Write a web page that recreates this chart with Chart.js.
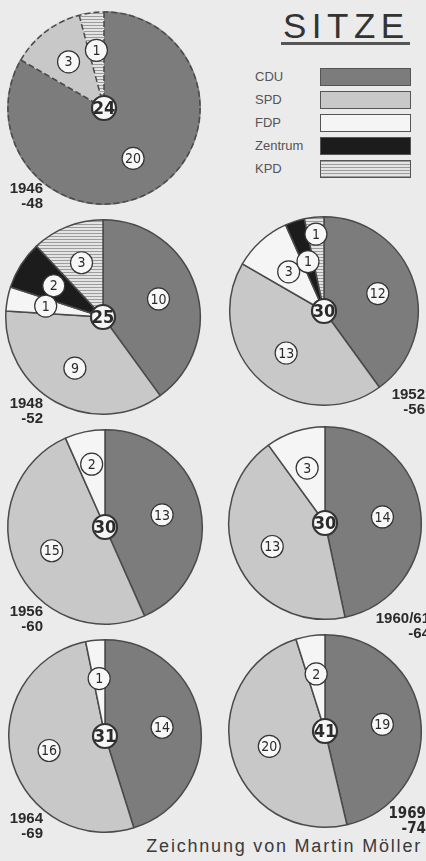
<!DOCTYPE html>
<html>
<head>
<meta charset="utf-8">
<script src="https://cdn.jsdelivr.net/npm/chart.js@4.4.0/dist/chart.umd.min.js"></script>
<style>
  html, body { margin: 0; padding: 0; }
  body {
    width: 426px; height: 861px; overflow: hidden; position: relative;
    background: #ebebeb; font-family: "Liberation Sans", Arial, sans-serif;
  }
  .pie { position: absolute; }
  .year {
    position: absolute; font-weight: bold; font-size: 15px; line-height: 15px;
    color: #2a2a2a; text-align: right; white-space: pre;
  }
  #title {
    position: absolute; left: 283px; top: 8px; font-size: 35px; line-height: 35px;
    letter-spacing: 5.5px; color: #333;
  }
  #underline { position: absolute; left: 281px; top: 42px; width: 129px; height: 3px; background: #555; }
  .lg-label { position: absolute; left: 255px; font-size: 13px; line-height: 18px; color: #555; }
  .lg-box { position: absolute; left: 320px; width: 89px; height: 16px; border: 1px solid #555; }
  #credit {
    position: absolute; right: 4px; top: 836px; font-size: 18px; line-height: 20px;
    letter-spacing: 1.8px; color: #3a3a3a;
  }
</style>
</head>
<body>
<div id="title">SITZE</div>
<div id="underline"></div>
<div id="legend"></div>
<div id="credit">Zeichnung von Martin Möller</div>

<script>
// seats per legislative period
const parties = ["CDU", "SPD", "FDP", "Zentrum", "KPD"];
const periods = ["1946\n-48", "1948\n-52", "1952\n-56", "1956\n-60", "1960/61\n-64", "1964\n-69", "1969\n-74"];
const cdu     = [20, 10, 12, 13, 14, 14, 19];
const spd     = [3,  9,  13, 15, 13, 16, 20];
const fdp     = [0,  1,  3,  2,  3,  1,  2];
const zentrum = [0,  2,  1,  0,  0,  0,  0];
const kpd     = [1,  3,  1,  0,  0,  0,  0];

// layout of each pie: center x, center y, radius, where the period label goes
const layout = [
  { cx: 104, cy: 108, r: 96, year: { right: 383, top: 180 }, dashed: true },
  { cx: 103, cy: 317, r: 97, year: { right: 383, top: 395 } },
  { cx: 324, cy: 311, r: 94, year: { right: 1, top: 386 }, radial: [0.6, 0.6, 0.56, 0.55, 0.82] },
  { cx: 105, cy: 527, r: 97, year: { right: 383, top: 603 }, radial: [0.6, 0.6, 0.66] },
  { cx: 325, cy: 523, r: 96, year: { right: -4, top: 610 } },
  { cx: 105, cy: 736, r: 96, year: { right: 383, top: 810 } },
  { cx: 325, cy: 731, r: 96, year: { right: 0, top: 806 }, narrow: true }
];

function hatch(){
  const c = document.createElement("canvas");
  c.width = 6; c.height = 3;
  const g = c.getContext("2d");
  g.fillStyle = "#e4e4e4";
  g.fillRect(0, 0, 6, 3);
  g.fillStyle = "#9c9c9c";
  g.fillRect(0, 0, 6, 1);
  return g.createPattern(c, "repeat");
}

const colors = ["#7c7c7c", "#c8c8c8", "#f5f5f5", "#1c1c1c", hatch()];
const legendCss = ["#7c7c7c", "#c8c8c8", "#f5f5f5", "#1c1c1c",
  "repeating-linear-gradient(to bottom, #9c9c9c 0px, #9c9c9c 1px, #e4e4e4 1px, #e4e4e4 3px)"];

// legend
const legend = document.getElementById("legend");
parties.forEach((p, i) => {
  const top = 68 + i * 23;
  const lab = document.createElement("div");
  lab.className = "lg-label";
  lab.style.top = top + "px";
  lab.textContent = p;
  legend.appendChild(lab);
  const box = document.createElement("div");
  box.className = "lg-box";
  box.style.top = top + "px";
  box.style.background = legendCss[i];
  legend.appendChild(box);
});

function badge(ctx, x, y, rad, text, big){
  ctx.beginPath();
  ctx.setLineDash([]);
  ctx.arc(x, y, rad, 0, Math.PI * 2);
  ctx.fillStyle = "#f7f7f7";
  ctx.fill();
  ctx.lineWidth = big ? 2.2 : 1.2;
  ctx.strokeStyle = "#333";
  ctx.stroke();
  ctx.fillStyle = "#2a2a2a";
  ctx.font = big ? "bold 18px 'Liberation Sans Narrow', 'DejaVu Sans Condensed', sans-serif"
                 : "14px 'Liberation Sans Narrow', 'DejaVu Sans Condensed', sans-serif";
  ctx.textAlign = "center";
  ctx.textBaseline = "middle";
  ctx.fillText(text, x, y + 1);
}

const seatLabels = {
  id: "seatLabels",
  afterDatasetsDraw(chart, args, opts){
    const ctx = chart.ctx;
    const arcs = chart.getDatasetMeta(0).data;
    const values = chart.data.datasets[0].data;
    ctx.save();
    if(opts.dashed){
      const a0 = arcs[0];
      ctx.strokeStyle = "#4a4a4a";
      ctx.lineWidth = 1.5;
      ctx.setLineDash([6, 3]);
      ctx.beginPath();
      ctx.arc(a0.x, a0.y, a0.outerRadius - 1, 0, Math.PI * 2);
      ctx.stroke();
      arcs.forEach((a, i) => {
        if(!values[i]) return;
        ctx.beginPath();
        ctx.moveTo(a.x, a.y);
        ctx.lineTo(a.x + Math.cos(a.startAngle) * a.outerRadius, a.y + Math.sin(a.startAngle) * a.outerRadius);
        ctx.stroke();
      });
    }
    let total = 0;
    arcs.forEach((a, i) => {
      const v = values[i];
      if(!v) return;
      total += v;
      const mid = (a.startAngle + a.endAngle) / 2;
      const f = (opts.radial && opts.radial[i]) || 0.6;
      badge(ctx, a.x + Math.cos(mid) * a.outerRadius * f, a.y + Math.sin(mid) * a.outerRadius * f, 11, String(v), false);
    });
    badge(ctx, arcs[0].x, arcs[0].y, 12, String(total), true);
    ctx.restore();
  }
};

periods.forEach((period, k) => {
  const L = layout[k];
  const box = document.createElement("div");
  box.className = "pie";
  const size = 2 * L.r + 4;
  box.style.left = (L.cx - L.r - 2) + "px";
  box.style.top = (L.cy - L.r - 2) + "px";
  box.style.width = size + "px";
  box.style.height = size + "px";
  const cv = document.createElement("canvas");
  box.appendChild(cv);
  document.body.appendChild(box);

  new Chart(cv, {
    type: "pie",
    data: {
      labels: parties,
      datasets: [{
        data: [cdu[k], spd[k], fdp[k], zentrum[k], kpd[k]],
        backgroundColor: colors,
        borderColor: "#4a4a4a",
        borderWidth: L.dashed ? 0 : 1.5
      }]
    },
    options: {
      responsive: true,
      maintainAspectRatio: false,
      animation: false,
      layout: { padding: 1 },
      plugins: {
        legend: { display: false },
        tooltip: { enabled: false },
        seatLabels: { dashed: !!L.dashed, radial: L.radial }
      }
    },
    plugins: [seatLabels]
  });

  const y = document.createElement("div");
  y.className = "year";
  y.textContent = period;
  y.style.right = L.year.right + "px";
  y.style.top = L.year.top + "px";
  if(L.narrow){
    y.style.fontFamily = "'Liberation Sans Narrow', 'DejaVu Sans Condensed', sans-serif";
  }
  document.body.appendChild(y);
});
</script>
</body>
</html>
